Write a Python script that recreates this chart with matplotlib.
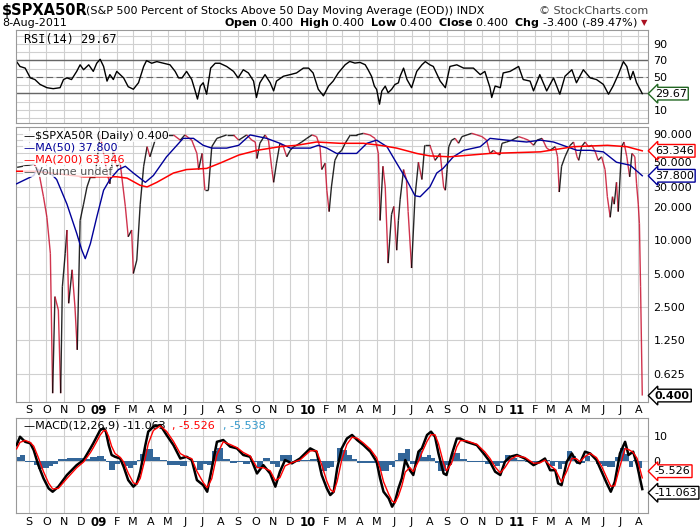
import numpy as np
import pandas as pd
import matplotlib
matplotlib.use("Agg")
import matplotlib.pyplot as plt
from matplotlib.collections import LineCollection

BASE = pd.Timestamp("2008-09-01")

# ---- data (day offsets from 2008-09-01) ----
price_days = [-21, 8, 16, 25, 31, 37, 41, 45, 51, 55, 58, 63, 66, 69, 75, 80, 84, 89, 95, 101, 107, 115,
              124, 130, 136, 141, 147, 153, 159, 168, 173, 179, 182, 188, 194, 200, 206, 211, 220, 235, 252,
              264, 272, 284, 293, 296, 302, 307, 313, 319, 328, 345, 357, 366,
              380, 389, 395, 398, 403, 412, 418, 424, 427, 432, 438, 444, 450, 456, 462, 467, 476, 485,
              494, 502, 508, 511, 517, 520, 524, 528, 534, 540, 546, 552, 561, 572, 584, 595, 604, 610,
              613, 618, 622, 627, 633, 637, 642, 645, 648, 654, 659, 662, 668, 674, 680, 686, 691, 700,
              709, 718, 724, 727, 730, 733, 738, 744, 750, 756, 765, 773, 782, 791, 799, 805, 811, 817,
              822, 826, 834, 843, 855, 864, 872, 881, 887, 896, 904, 910, 919, 923, 926, 930, 936, 945,
              951, 957, 960, 965, 971, 977, 983, 989, 994, 1000, 1006, 1010, 1015, 1019, 1022, 1026,
              1029, 1035, 1039, 1044, 1049, 1053, 1058, 1061, 1064, 1066, 1068, 1071]
price_vals = [45, 48, 43, 24.5, 16, 7.6, 0.42, 3.1, 2.35, 0.42, 3.8, 7.6, 12.3, 2.7, 5.4, 2.5, 1.03, 15, 21,
              30, 37, 37, 88, 60, 40, 32, 64, 46, 49, 20, 10.7, 12.3, 5, 6.6, 21, 46, 69, 56, 79, 88, 88,
              79, 88, 79, 60, 43, 60, 28, 28, 69, 82, 88, 88, 79,
              88, 79, 76, 54, 74, 88, 79, 43, 33, 49, 74, 69, 56, 64, 69, 71, 76, 82,
              88, 85, 69, 43, 49, 28, 18, 30, 52, 60, 64, 74, 88, 88, 91, 88, 82, 60,
              15, 46, 30, 6.2, 17, 20, 8.1, 15, 23, 43, 35, 18, 5.6, 24.5, 50, 35, 71, 71,
              52, 60, 30, 28, 43, 69, 79, 82, 74, 85, 88, 91, 88, 85, 79, 60, 64, 60,
              58, 74, 76, 79, 85, 82, 79, 71, 79, 82, 67, 64, 69, 56, 27, 46, 56, 71,
              76, 56, 52, 69, 76, 69, 71, 62, 52, 56, 43, 24.5, 16, 24.5, 21, 33,
              18, 69, 76, 56, 37, 60, 56, 32, 21, 14, 3.8, 0.4]

ma50_days = [-22, 8, 13, 37, 48, 66, 83, 92, 98, 107, 118, 130, 141, 156, 168, 182, 203, 217, 240, 269,
             287, 304, 319, 345, 366, 386, 415, 438, 456, 473, 491, 505, 520, 537, 572, 590, 607, 625,
             642, 659, 674, 683, 700, 712, 723, 741, 759, 788, 805, 834, 869, 893, 916, 939, 957, 980,
             1003, 1026, 1050, 1071]
ma50_vals = [32, 38, 43, 40, 35, 21, 11.5, 8.1, 6.8, 9.3, 16, 28, 35, 43, 46, 40, 33, 38, 56, 82,
             82, 71, 67, 67, 71, 88, 82, 74, 67, 67, 67, 71, 67, 60, 60, 74, 79, 69,
             49, 35, 25, 24.5, 30, 40, 44, 56, 64, 69, 82, 79, 76, 79, 76, 69, 64, 64,
             62, 50, 47, 37.8]

ma200_days = [-22, 8, 37, 66, 95, 124, 153, 171, 194, 206, 223, 252, 275, 310, 333, 366, 398, 438, 467,
              502, 543, 584, 613, 642, 677, 700, 735, 805, 893, 951, 1010, 1044, 1071]
ma200_vals = [41.5, 41.5, 40, 38.5, 37, 37, 37, 36, 31, 30, 33, 40, 43, 44, 49, 58, 64, 69, 71,
              76, 74, 74, 71, 67, 60, 57, 56, 60, 62, 69, 71, 69, 63.346]

rsi_days = [-22, -16, -7, 2, 10, 19, 31, 42, 54, 60, 66, 74, 83, 89, 95, 104, 112, 118, 124, 130,
            136, 141, 147, 153, 159, 165, 173, 182, 191, 200, 205, 214, 223, 235, 246, 255, 261, 267,
            275, 284, 290, 294, 299, 304, 310, 317, 325, 333, 345, 357, 365, 374, 383, 392, 397, 403,
            412, 421, 427, 432, 444, 456, 467, 479, 488, 496, 505, 514, 523, 531, 540,
            552, 560, 569, 578, 587, 592, 598, 603, 607, 612, 616, 622, 627, 633, 639, 645,
            648, 654, 660, 668, 677, 686, 692, 700, 706, 718, 727, 735, 747, 759, 776, 788, 796, 805,
            808, 814, 823, 828, 840, 855, 863, 875, 881, 892, 904, 916, 927, 936, 948, 956, 968, 980,
            991, 1003, 1012, 1020, 1029, 1038, 1044, 1050, 1055, 1061, 1071]
rsi_vals = [68.6, 62.7, 60.7, 48.8, 46.8, 40.9, 36.9, 35.7, 36.9, 46.8, 48.8, 46.8, 56.7, 64.7, 58.7,
            64.7, 56.7, 66.6, 71.4, 62.7, 44.9, 52.8, 46.8, 56.7, 52.8, 48.8, 38.1, 35, 42.9, 62.7,
            69.8, 66.6, 68.6, 66.6, 64.7, 56.7, 48.8, 48.8, 56.7, 46.8, 33, 23.1, 38.9, 42.9, 29,
            60.7, 66.6, 66.6, 62.7, 56.7, 48.8, 58.7, 54.8, 44.9, 25, 42.9, 52.8, 42.9, 33, 44.9,
            50.8, 52.8, 54.8, 60.7, 60.7, 54.8, 35, 27, 38.9, 44.9, 54.8,
            64.8, 68.8, 66.8, 67.6, 64.8, 58.8, 50.8, 38.8, 34.8, 16.8, 32.8, 38.8, 30.8, 34.8, 40.8, 42.8,
            50.8, 60.7, 46.8, 36.9, 56.7, 64.7, 68.6, 64.7, 62.7, 44.9, 36.9, 62.7, 64.7, 60.7, 60.7,
            52.8, 56.7, 36.9, 25, 38.9, 36.9, 54.8, 56.7, 62.7, 46.8, 44.9, 33, 52.8, 33, 48.8, 29,
            50.8, 58.7, 42.9, 58.7, 48.8, 46.8, 40.9, 29, 38.9, 52.8, 68.6, 62.7, 46.8, 56.7, 42.9,
            29.67]

macd_days = [-22, -16, -7, 2, 8, 16, 25, 34, 41, 51, 66, 83, 95, 107, 112, 118, 124, 130, 134, 139,
             144, 150, 159, 165, 173, 182, 188, 194, 203, 208, 217, 229, 240, 252, 264, 275, 284, 293,
             304, 311, 319, 328, 339, 351, 363, 374, 386, 398, 409, 421, 430, 438, 447, 459, 473, 491,
             502, 511, 520, 526, 532, 538, 546, 555, 564, 573, 584, 596, 607, 613, 619, 628, 634, 639,
             645, 651, 657, 665, 671, 680, 686, 695, 702, 709, 715, 724, 729, 738, 747, 753, 764, 782,
             796, 805, 814, 823, 831, 840, 852, 866, 881, 892, 901, 910, 919, 924, 930, 939, 948, 956,
             962, 971, 980, 991, 1000, 1009, 1016, 1023, 1032, 1041, 1047, 1055, 1062, 1071]
macd_vals = [6.3, 9.6, 7.6, 7, 4.3, -1.6, -6.8, -10.8, -12.1, -10.1, -5.5, -1.6, 0.4, 5, 7, 9.6, 12.2,
             12.9, 11.6, 6.3, 2.4, 1.7, 1, -2.2, -7.5, -10.1, -8.8, -4.2, 6.3, 11.6, 13.6, 14.2, 10.3,
             6.3, 1, 1.7, 0.4, -7.5, -9.5, -12.1, -2.9, 7.6, 8.3, 5.7, 5, 2.4, 1.7, -4.9, -1.6, -4.9,
             -10.1, -4.2, 0.4, -0.9, 1, 5, 3.7, -5.5, -10.8, -13.4, -12.1, -2.9, 5, 8.9, 10.3, 8.3,
             6.3, 3.7, -0.3, -6.8, -12.1, -14.7, -18, -16, -10.8, -6.8, 0.4, -3.6, -5.5, 3.7, 5, 10.3,
             11.6, 9.6, 3, -4.9, -5.5, 2.4, 8.9, 8.9, 7.6, 6.3, 2.4, -0.3, -4.2, -5.5, -0.3, 1.7, 2.4,
             1, -1.6, -0.3, 1, -3.6, -3.6, -8.8, -9.5, -0.3, 3, -0.3, -0.9, 3.7, 3, 0.4, -4.2, -8.8,
             -12.1, -8.2, 3, 7.6, 2.4, 3.7, -1.6, -11.063]

month_letters = ["J", "F", "M", "A", "M", "J", "J", "A", "S", "O", "N", "D"]
main_ticks = [0.625, 1.25, 2.5, 5, 10, 20, 30, 50, 90]
main_grid = [0.625, 1.25, 2.5, 5, 10, 20, 30, 40, 50, 60, 70, 80, 90]
rsi_ticks = [10, 50, 70, 90]
macd_ticks = [0, 10]

# ---- MACD signal line: EMA(9) of the MACD line (continuous-time, piecewise linear input) ----
mx = np.array(macd_days, float)
mv = np.array(macd_vals, float)
lam = -np.log(1 - 2 / 10)
sig = [mv[0] - 1.5]
for i in range(1, len(mv)):
    h = mx[i] - mx[i - 1]
    sl = (mv[i] - mv[i - 1]) / h
    k = np.exp(-lam * h)
    sig.append(mv[i] - sl / lam + (sig[-1] - mv[i - 1] + sl / lam) * k)
sig = np.array(sig)
hist = mv - sig

x = np.array(price_days, float)
p = np.array(price_vals, float)
XMIN, XMAX = -23, 1081

# ---- figure ----
fig = plt.figure(figsize=(7, 5.3), dpi=100)
W, H = 700, 530
def rect(l, t, r, b):
    return [l / W, 1 - b / H, (r - l) / W, (b - t) / H]

ax_rsi = fig.add_axes(rect(16, 30, 648, 123))
ax = fig.add_axes(rect(16, 127, 648, 402))
ax_m = fig.add_axes(rect(16, 418, 648, 513))

months = pd.date_range("2008-09-01", "2011-08-01", freq="MS")
mpos = [(m - BASE).days for m in months]
mlab = [("%02d" % (m.year % 100)) if m.month == 1 else month_letters[m.month - 1] for m in months]

GRID = "#d0d0d0"
for axx in (ax_rsi, ax, ax_m):
    axx.set_xlim(XMIN, XMAX)
    for pp in mpos:
        axx.axvline(pp, color=GRID, lw=0.8, zorder=0)
    for sp in axx.spines.values():
        sp.set_color("#999999")
    axx.tick_params(axis="both", length=0, labelsize=8, colors="#000000", pad=4)
    axx.yaxis.tick_right()
    axx.set_xticks([])

for yy in (410, 522):
    for pp, lab in zip(mpos, mlab):
        xf = (16 + (pp - XMIN) / (XMAX - XMIN) * 632) / W
        fig.text(xf, 1 - yy / H, lab, ha="center", va="center", fontsize=8.5 if len(lab) == 2 else 8,
                 fontweight="bold" if len(lab) == 2 else "normal")

# RSI panel
ax_rsi.set_ylim(-6, 107)
for v in range(0, 101, 10):
    ax_rsi.axhline(v, color=GRID, lw=0.8, zorder=0)
ax_rsi.axhline(70, color="#666666", lw=1)
ax_rsi.axhline(30, color="#666666", lw=1)
ax_rsi.axhline(50, color="#666666", lw=0.8, ls=(0, (6, 3)))
ax_rsi.plot(rsi_days, rsi_vals, color="black", lw=1)
ax_rsi.set_yticks(rsi_ticks)
ax_rsi.set_yticklabels([str(v) for v in rsi_ticks])
ax_rsi.text(0.012, 0.97, "RSI(14) 29.67", transform=ax_rsi.transAxes, va="top", fontsize=8.5,
            family="DejaVu Sans Mono")
ax_rsi.annotate("29.67", xy=(1.0, 29.67), xycoords=("axes fraction", "data"), xytext=(5, 0),
                textcoords="offset points", va="center", fontsize=8,
                bbox=dict(boxstyle="larrow,pad=0.12", fc="white", ec="#226622", lw=1))

# main panel
ax.set_yscale("log")
ax.set_ylim(0.35, 103.7)
for v in main_grid:
    ax.axhline(v, color=GRID, lw=0.8, zorder=0)
ax.set_yticks(main_ticks)
ax.set_yticklabels(["%.3f" % v for v in main_ticks])
ax.minorticks_off()
ax.tick_params(axis="y", which="both", length=0)
pts = np.column_stack([x, p])
segs = np.stack([pts[:-1], pts[1:]], axis=1)
cols = ["#c8102e" if p[i + 1] < p[i] else "black" for i in range(len(p) - 1)]
ax.add_collection(LineCollection(segs, colors=cols, lw=1.0, alpha=0.85, zorder=3))
ax.plot(ma50_days, ma50_vals, color="#000099", lw=1, zorder=4)
ax.plot(ma200_days, ma200_vals, color="#ff0000", lw=1.1, zorder=4)
leg = [("$SPXA50R (Daily) 0.400", "black"), ("MA(50) 37.800", "#000099"),
       ("MA(200) 63.346", "#ff0000"), ("Volume undef", "#555555")]
for i, (t, c) in enumerate(leg):
    ax.text(0.012, 0.985 - i * 0.043, "\u2014" + t, transform=ax.transAxes,
            va="top", fontsize=8, color=c, zorder=6,
            bbox=dict(fc="white", ec="none", pad=0.3, alpha=0.8))
for val, txt, ec, bold in [(63.346, "63.346", "#ff0000", False), (37.8, "37.800", "#000099", False),
                           (0.4, "0.400", "black", True)]:
    ax.annotate(txt, xy=(1.0, val), xycoords=("axes fraction", "data"), xytext=(5, 0),
                textcoords="offset points", va="center", fontsize=8,
                fontweight="bold" if bold else "normal",
                bbox=dict(boxstyle="larrow,pad=0.12", fc="white", ec=ec, lw=1))

# MACD panel
ax_m.set_ylim(-20.5, 17)
for v in (-10, 0, 10):
    ax_m.axhline(v, color=GRID, lw=0.8, zorder=0)
ax_m.fill_between(mx, 0, hist, step="post", color="#336699", lw=0, zorder=2)
ax_m.plot(mx, mv, color="black", lw=1.8, zorder=3)
ax_m.plot(mx, sig, color="#ff0000", lw=1, zorder=4)
ax_m.set_yticks(macd_ticks)
ax_m.set_yticklabels([str(v) for v in macd_ticks])
ax_m.text(0.012, 0.97, "\u2014MACD(12,26,9) -11.063", transform=ax_m.transAxes, va="top", fontsize=8)
ax_m.text(0.247, 0.97, ", -5.526", transform=ax_m.transAxes, va="top", fontsize=8, color="#ff0000")
ax_m.text(0.327, 0.97, ", -5.538", transform=ax_m.transAxes, va="top", fontsize=8, color="#3399cc")
for val, txt, ec in [(-4.0, "-5.526", "#ff0000"), (-12.5, "-11.063", "black")]:
    ax_m.annotate(txt, xy=(1.0, val), xycoords=("axes fraction", "data"), xytext=(5, 0),
                  textcoords="offset points", va="center", fontsize=8,
                  bbox=dict(boxstyle="larrow,pad=0.12", fc="white", ec=ec, lw=1))

# header
fig.text(2 / W, 1 - 11 / H, "$SPXA50R", fontsize=10.5, fontweight="bold", va="center")
fig.text(86 / W, 1 - 11 / H, "(S&P 500 Percent of Stocks Above 50 Day Moving Average (EOD)) INDX",
         fontsize=8, va="center")
fig.text(648 / W, 1 - 11 / H, "\u00a9 StockCharts.com", fontsize=8, va="center", ha="right", color="#444444")
fig.text(2 / W, 1 - 23 / H, "8-Aug-2011", fontsize=8, va="center")
fig.text(638 / W, 1 - 23 / H,
         r"$\bf{Open}$ 0.400  $\bf{High}$ 0.400  $\bf{Low}$ 0.400  $\bf{Close}$ 0.400  $\bf{Chg}$ -3.400 (-89.47%)",
         fontsize=8, va="center", ha="right")
fig.text(647 / W, 1 - 23 / H, "\u25BC", fontsize=6, va="center", ha="right", color="#aa1122")

fig.savefig("out.png", dpi=100)
